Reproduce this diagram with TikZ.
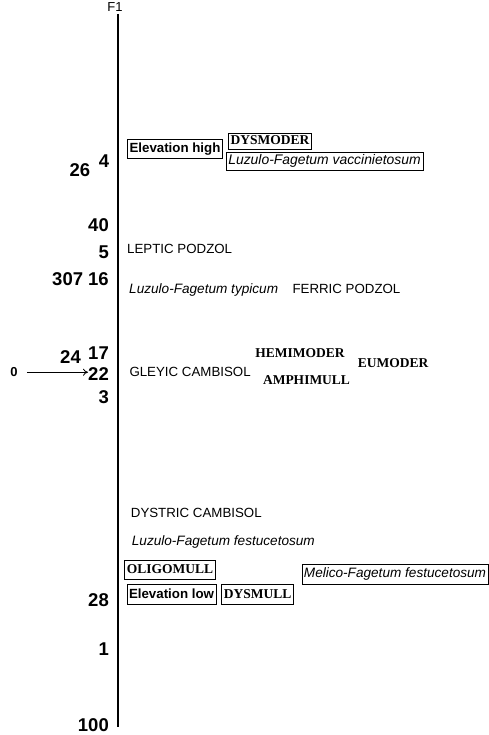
\documentclass[tikz,border=0pt]{standalone}
\usepackage{fontspec}
\setmainfont{Liberation Serif}
\setsansfont{Liberation Sans}
\usetikzlibrary{arrows.meta, positioning}

\begin{document}
\begin{tikzpicture}[x=1pt, y=-1pt, >={To[length=5pt, width=7pt]},
  numlab/.style={font=\sffamily\bfseries\fontsize{18.5}{20}\selectfont,
        inner sep=0pt, anchor=base east},
  soillab/.style={font=\sffamily\fontsize{13.3}{15}\selectfont,
        inner sep=0pt, anchor=base west},
  assoclab/.style={soillab, font=\sffamily\itshape\fontsize{13.6}{15}\selectfont},
  humuslab/.style={font=\rmfamily\bfseries\fontsize{13.5}{15}\selectfont,
        inner sep=0pt, anchor=base},
  boxlab/.style={draw, line width=0.8pt, inner xsep=2pt, inner ysep=0pt,
        minimum height=19.5pt, text height=10pt, text depth=2.5pt}]
  \useasboundingbox (0,0) rectangle (488,735);

  % axis F1
  \coordinate (top) at (118.3,14);
  \coordinate (bot) at (118.3,727);
  \draw[line width=2.3pt] (top) -- (bot);
  \node[font=\sffamily\fontsize{13}{15}\selectfont, inner sep=0pt, anchor=base]
    (f1) at (115,11.7) {F1};

  % scores along the axis
  \node[numlab, anchor=base] (n4) at (104,167.7) {4};
  \node[numlab, anchor=base] (n26) at (80,176.5) {26};
  \node[numlab] (n40) at (109,231.7) {40};
  \node[numlab] (n5) at (109,258) {5};
  \node[numlab] (n307) at (109,285) {307 16};
  \node[numlab] (n17) at (109,359) {17};
  \node[numlab] (n24) at (81,363.3) {24};
  \node[numlab] (n22) at (109,380) {22};
  \node[numlab] (n3) at (109,403.3) {3};
  \node[numlab] (n28) at (109,606) {28};
  \node[numlab] (n1) at (109,655) {1};
  \node[numlab] (n100) at (109,731.7) {100};
  \node[font=\sffamily\bfseries\fontsize{13}{15}\selectfont, inner sep=0pt, anchor=base]
    (zero) at (14,376.7) {0};
  \draw[->, line width=0.8pt, shorten <=9pt] (zero.east) -- (n22.west |- zero.east);

  % upper end
  \node[boxlab, font=\sffamily\bfseries\fontsize{13.3}{15}\selectfont] (elevhigh)
    at (175,149) {Elevation high};
  \node[boxlab, font=\rmfamily\bfseries\fontsize{13.5}{15}\selectfont,
        minimum height=16pt] (dysmoder) at (270,141) {DYSMODER};
  \node[boxlab, font=\sffamily\itshape\fontsize{13.9}{15}\selectfont,
        minimum height=18pt, minimum width=197pt] (luzvacc) at (324.5,161)
    {Luzulo-Fagetum vaccinietosum};

  % middle
  \node[soillab] (leptic) at (127,253) {LEPTIC PODZOL};
  \node[assoclab] (luztyp) at (129,293) {Luzulo-Fagetum typicum};
  \node[soillab, base right=14pt of luztyp] (ferric) {FERRIC PODZOL};
  \node[soillab] (gleyic) at (129.3,376) {GLEYIC CAMBISOL};
  \node[humuslab] (hemi) at (300,357.7) {HEMIMODER};
  \node[humuslab] (amphi) at (306.5,384) {AMPHIMULL};
  \node[humuslab] (eumoder) at (393,367) {EUMODER};

  % lower end
  \node[soillab] (dystric) at (130.7,517.5) {DYSTRIC CAMBISOL};
  \node[assoclab] (luzfest) at (131.7,545) {Luzulo-Fagetum festucetosum};
  \node[boxlab, font=\rmfamily\bfseries\fontsize{13.5}{15}\selectfont,
        minimum height=19pt] (oligomull) at (170,569.5) {OLIGOMULL};
  \node[boxlab, font=\sffamily\itshape\fontsize{13.6}{15}\selectfont,
        minimum height=20pt, minimum width=184pt] (melico) at (395,574)
    {Melico-Fagetum festucetosum};
  \node[boxlab, font=\sffamily\bfseries\fontsize{13.3}{15}\selectfont] (elevlow)
    at (171.5,594.5) {Elevation low};
  \node[boxlab, font=\rmfamily\bfseries\fontsize{13.5}{15}\selectfont,
        right=5pt of elevlow] (dysmull) {DYSMULL};
\end{tikzpicture}
\end{document}
